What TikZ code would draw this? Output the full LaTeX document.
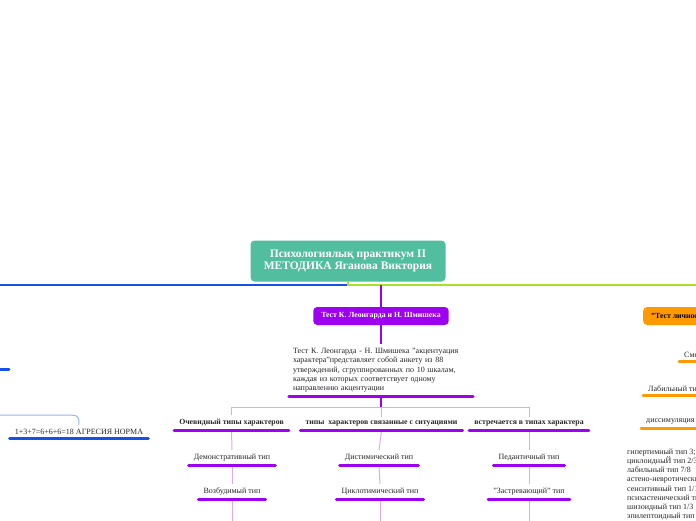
\documentclass[tikz,border=0pt]{standalone}
\usepackage{fontspec}
\setmainfont{Liberation Serif}
\usepackage{tikz}
\definecolor{mmteal}{RGB}{82,190,160}
\definecolor{mmpurple}{RGB}{158,0,240}
\definecolor{mmlilac}{RGB}{218,170,248}
\definecolor{mmblue}{RGB}{22,80,230}
\definecolor{mmsky}{RGB}{150,180,245}
\definecolor{mmlime}{RGB}{170,225,40}
\definecolor{mmorange}{RGB}{255,153,0}

\begin{document}
\begin{tikzpicture}[
            x=1pt, y=-1pt,
            rootbox/.style={rectangle, rounded corners=4pt, fill=mmteal, text=white, align=center,
                minimum width=195pt, minimum height=41pt, font=\bfseries\fontsize{11.5}{12.5}\selectfont},
            tagbox/.style={rectangle, rounded corners=4pt, fill=#1, inner xsep=8pt, minimum height=18pt,
                font=\bfseries\fontsize{7.8}{9}\selectfont},
            topic/.style={inner xsep=5pt, inner ysep=4pt, text=black!85, font=\fontsize{8}{9.2}\selectfont},
            headtopic/.style={topic, font=\bfseries\fontsize{7.8}{9}\selectfont},
            uline/.style={line width=3pt, line cap=round, draw=#1},
            link/.style={mmlilac, line width=1pt},
        ]
            \useasboundingbox (0,0) rectangle (696,520);
            \clip (0,0) rectangle (696,520);

            \node[rootbox] (root) at (348,261) {Психологиялық практикум II\\МЕТОДИКА Яганова Виктория};
            \coordinate (lft) at (-5,285);
            \coordinate (rgt) at (701,285);

            % main branch
            \node[tagbox=mmpurple, text=white] (leon) at (381,316) {Тест К. Леонгарда и Н. Шмишека};
            \node[topic, anchor=south, text width=176pt, inner xsep=4pt, align=left] (desc) at (381,396.5)
                {Тест К. Леонгарда - Н. Шмишека "акцентуация\\характера"представляет собой анкету из 88\\утверждений, сгруппированных по 10 шкалам,\\каждая из которых соответствует одному\\направлению акцентуации};
            \node[headtopic, anchor=south] (obv) at (231.5,430.5) {Очевидный типы характеров};
            \node[headtopic, anchor=south] (sit) at (381.5,430.5) {типы\ \ характеров связанные с ситуациями};
            \node[headtopic, anchor=south] (meet) at (529,430.5) {встречается в типах характера};
            \node[topic, anchor=south] (demo) at (232,465.5) {Демонстративный тип};
            \node[topic, anchor=south] (dyst) at (379,465.5) {Дистимический тип};
            \node[topic, anchor=south] (ped) at (529,465.5) {Педантичный тип};
            \node[topic, anchor=south] (exc) at (232,499.5) {Возбудимый тип};
            \node[topic, anchor=south] (cyc) at (380,499.5) {Циклотимический тип};
            \node[topic, anchor=south] (stuck) at (529,499.5) {"Застревающий" тип};

            % right branch
            \node[tagbox=mmorange, anchor=west] (lich) at (643,316) {"Тест личности"};
            \node[topic, anchor=south west] (mix) at (679,361.5) {Смешанный тип};
            \node[topic, anchor=south west] (lab) at (643,395.5) {Лабильный тип};
            \node[topic, anchor=south west] (diss) at (641,428.5) {диссимуляция нет};
            \node[topic, anchor=north west, inner xsep=4pt, inner ysep=3pt, align=left,
                font=\fontsize{8}{9.1}\selectfont] (score) at (623,446)
                {гипертимный тип 3;\\циклоидныЙ тип 2/3\\лабильный тип 7/8\\астено-невротический тип\\сенситивный тип 1/1\\психастенический тип\\шизоидный тип 1/3\\эпилептоидный тип};

            % left branch
            \node[topic, anchor=south] (agr) at (79,438.5) {1+3+7=6+6+6=18 АГРЕСИЯ НОРМА};
            \coordinate (agrin) at (-5,415);

            % connectors
            \draw[mmblue, line width=1.2pt] (root.south) |- (lft);
            \draw[mmlime, line width=1.5pt] (root.south) |- (rgt);
            \draw[mmpurple, line width=1.5pt] (leon.north) -- ++(0,-22);
            \draw[mmpurple, line width=1.5pt] (leon.south) -- (desc.north);
            \draw[mmpurple, line width=1.5pt] (desc.south) -- ++(0,11) coordinate (fork);
            \draw[link] (fork) -| (obv.north);
            \draw[link] (fork) -| (sit.north);
            \draw[link] (fork) -| (meet.north);
            \draw[link] (obv.south) -- (demo.north);
            \draw[link] (sit.south) -- (dyst.north);
            \draw[link] (meet.south) -- (ped.north);
            \draw[link] (demo.south) -- (exc.north);
            \draw[link] (dyst.south) -- (cyc.north);
            \draw[link] (ped.south) -- (stuck.north);
            \draw[link] (exc.south) -- ++(0,30);
            \draw[link] (cyc.south) -- ++(0,30);
            \draw[link] (stuck.south) -- ++(0,30);
            \draw[mmsky, line width=1pt] (agrin) -- (62,415) .. controls (79,415) .. (agr.north);

            % underlines
            \foreach \n in {desc, obv, sit, meet, demo, dyst, ped, exc, cyc, stuck}
                \draw[uline=mmpurple] (\n.south west) -- (\n.south east);
            \foreach \n in {mix, lab, diss}
                \draw[uline=mmorange] (\n.south west) -- (\n.south east);
            \draw[uline=mmblue] (agr.south west) -- (agr.south east);
            \draw[uline=mmblue] (-30,369.5) -- (9,369.5);
        \end{tikzpicture}
\end{document}
